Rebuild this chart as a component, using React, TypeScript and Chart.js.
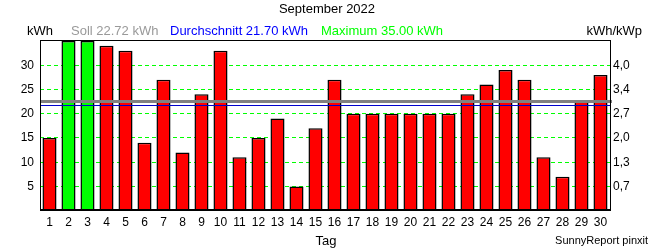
import React, { useEffect, useRef } from "react";
import { Chart, registerables } from "chart.js";

Chart.register(...registerables);

const TITLE = "September 2022";
const DAYS = Array.from({ length: 30 }, (_, i) => String(i + 1));
const ENERGY_KWH = [
  15, 35, 35, 34, 33, 14, 27, 12, 24, 33,
  11, 15, 19, 5, 17, 27, 20, 20, 20, 20,
  20, 20, 24, 26, 29, 27, 11, 7, 22.8, 28,
];
const SOLL_KWH = 22.72;
const AVERAGE_KWH = 21.7;
const MAXIMUM_KWH = 35.0;
const LEFT_TICKS = [5, 10, 15, 20, 25, 30];
const RIGHT_TICK_LABELS = ["0,7", "1,3", "2,0", "2,7", "3,4", "4,0"];

const FONT = "'Liberation Sans', Arial, sans-serif";

export default function App() {
  const ref = useRef<HTMLCanvasElement | null>(null);

  useEffect(() => {
    document.body.style.margin = "0";
    const canvas = ref.current;
    if (!canvas) return;

    const overlay = {
      id: "overlay",
      afterDatasetsDraw(chart: any) {
        const ctx = chart.ctx;
        const { left, right, top, bottom } = chart.chartArea;
        const y = chart.scales.y;
        ctx.save();
        // Soll line
        ctx.strokeStyle = "#808080";
        ctx.lineWidth = 3;
        const ys = Math.round(y.getPixelForValue(SOLL_KWH)) + 0.5;
        ctx.beginPath();
        ctx.moveTo(left, ys);
        ctx.lineTo(right + 2, ys);
        ctx.stroke();
        // Average line
        ctx.strokeStyle = "#0000cc";
        ctx.lineWidth = 1;
        const ya = Math.round(y.getPixelForValue(AVERAGE_KWH)) + 0.5;
        ctx.beginPath();
        ctx.moveTo(left, ya);
        ctx.lineTo(right, ya);
        ctx.stroke();
        // frame
        ctx.strokeStyle = "#000";
        ctx.lineWidth = 1;
        ctx.strokeRect(Math.round(left) + 0.5, Math.round(top) + 0.5, Math.round(right - left), Math.round(bottom - top));
        ctx.lineWidth = 2;
        ctx.beginPath();
        ctx.moveTo(left, Math.round(bottom) + 1);
        ctx.lineTo(right + 1, Math.round(bottom) + 1);
        ctx.stroke();

        // texts
        ctx.textBaseline = "middle";
        ctx.font = `13px ${FONT}`;
        ctx.fillStyle = "#000";
        ctx.textAlign = "center";
        ctx.fillText(TITLE, 327, 9);
        ctx.textAlign = "left";
        ctx.fillText("kWh", 27, 31);
        ctx.fillStyle = "#999999";
        ctx.fillText(`Soll ${SOLL_KWH.toFixed(2)} kWh`, 71, 31);
        ctx.fillStyle = "#0000ff";
        ctx.fillText(`Durchschnitt ${AVERAGE_KWH.toFixed(2)} kWh`, 170, 31);
        ctx.fillStyle = "#00ff00";
        ctx.fillText(`Maximum ${MAXIMUM_KWH.toFixed(2)} kWh`, 321, 31);
        ctx.fillStyle = "#000";
        ctx.textAlign = "right";
        ctx.fillText("kWh/kWp", 642, 31);
        ctx.textAlign = "center";
        ctx.fillText("Tag", 326, 241);
        ctx.font = `11px ${FONT}`;
        ctx.textAlign = "right";
        ctx.fillText("SunnyReport pinxit", 648, 241);
        ctx.restore();
      },
    };

    const maxVal = Math.max(...ENERGY_KWH);
    const chart = new Chart(canvas, {
      type: "bar",
      data: {
        labels: DAYS,
        datasets: [
          {
            data: ENERGY_KWH,
            backgroundColor: ENERGY_KWH.map((v) => (v >= maxVal ? "#00ff00" : "#ff0000")),
            borderColor: "#000",
            borderWidth: 1.5,
            barPercentage: 0.74,
            categoryPercentage: 1,
            yAxisID: "y",
          },
        ],
      },
      options: {
        responsive: false,
        animation: false,
        layout: { padding: { top: 40, left: 0, right: 0, bottom: 0 } },
        plugins: {
          legend: { display: false },
          title: { display: false },
          tooltip: { enabled: false },
        },
        scales: {
          x: {
            type: "category",
            offset: true,
            grid: { display: false, drawTicks: false },
            border: { display: false },
            ticks: {
              color: "#000",
              font: { family: FONT, size: 12 },
              padding: 6,
              maxRotation: 0,
              autoSkip: false,
            },
            afterFit(scale: any) {
              scale.height = 41;
            },
          },
          y: {
            position: "left",
            min: 0.35,
            max: 35.2,
            grid: { color: "#00ff00", lineWidth: 1, drawTicks: false },
            border: { display: false, dash: [4, 3] },
            ticks: {
              color: "#000",
              font: { family: FONT, size: 12 },
              padding: 6,
            },
            afterBuildTicks(scale: any) {
              scale.ticks = LEFT_TICKS.map((v) => ({ value: v }));
            },
            afterFit(scale: any) {
              scale.width = 40;
            },
          },
          y2: {
            position: "right",
            min: 0.35,
            max: 35.2,
            grid: { display: false, drawTicks: false },
            border: { display: false },
            ticks: {
              color: "#000",
              font: { family: FONT, size: 12 },
              padding: 3,
              callback: (_v: any, i: number) => RIGHT_TICK_LABELS[i],
            },
            afterBuildTicks(scale: any) {
              scale.ticks = LEFT_TICKS.map((v) => ({ value: v }));
            },
            afterFit(scale: any) {
              scale.width = 40;
            },
          },
        },
      },
      plugins: [overlay],
    });
    return () => chart.destroy();
  }, []);

  return (
    <div style={{ width: 650, height: 250, background: "#fff" }}>
      <canvas ref={ref} width={650} height={250} style={{ display: "block" }} />
    </div>
  );
}
